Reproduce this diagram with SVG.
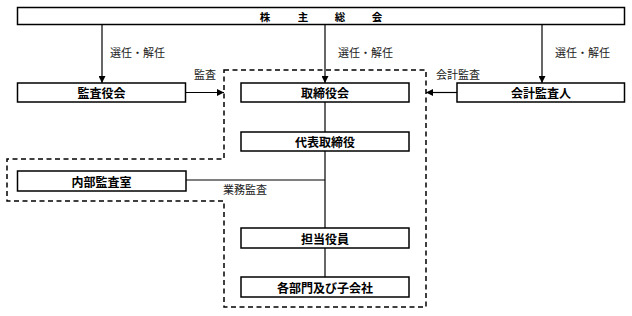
<svg xmlns="http://www.w3.org/2000/svg" width="632" height="316" viewBox="0 0 632 316">
<style>
.box{fill:#fff;stroke:#000;stroke-width:1.5}
.lbl{font-family:"Noto Sans CJK JP",sans-serif;font-size:12px;font-weight:bold;fill:#000;text-anchor:middle;dominant-baseline:central}
.note{font-family:"Noto Sans CJK JP",sans-serif;font-size:11px;fill:#222}
.ln{stroke:#000;stroke-width:1.2;fill:none}
.dash{stroke:#000;stroke-width:1.5;fill:none;stroke-dasharray:5 3.5}
</style>
<defs>
<marker id="ah" viewBox="0 0 10 10" refX="10" refY="5" markerWidth="7" markerHeight="7" markerUnits="userSpaceOnUse" orient="auto">
<path d="M0,0 L10,5 L0,10 z" fill="#000"/>
</marker>
</defs>
<g id="scope">
<path class="dash" d="M224,70 H426 V307 H224 V201 H7 V159 H224 Z"/>
</g>
<g id="connectors">
<line class="ln" x1="102" y1="24.5" x2="102" y2="83" marker-end="url(#ah)"/>
<line class="ln" x1="325" y1="24.5" x2="325" y2="83" marker-end="url(#ah)"/>
<line class="ln" x1="542" y1="24.5" x2="542" y2="83" marker-end="url(#ah)"/>
<line class="ln" x1="185" y1="92.5" x2="224" y2="92.5" marker-end="url(#ah)"/>
<line class="ln" x1="457" y1="92.5" x2="426" y2="92.5" marker-end="url(#ah)"/>
<line class="ln" x1="325" y1="102" x2="325" y2="132"/>
<line class="ln" x1="325" y1="151" x2="325" y2="228"/>
<line class="ln" x1="325" y1="248" x2="325" y2="277"/>
<line class="ln" x1="186" y1="180" x2="325" y2="180"/>
<text class="note" x="110" y="57">選任・解任</text>
<text class="note" x="338" y="57">選任・解任</text>
<text class="note" x="555" y="57">選任・解任</text>
<text class="note" x="194" y="79">監査</text>
<text class="note" x="436" y="79">会計監査</text>
<text class="note" x="223" y="194">業務監査</text>
</g>
<g id="n-shareholders">
<rect class="box" x="17.5" y="7.5" width="607" height="17"/>
<text class="lbl" style="font-size:10.5px" x="265 303 340 377" y="16.5">株主総会</text>
</g>
<g id="n-auditors">
<rect class="box" x="17.5" y="83" width="168" height="19"/>
<text class="lbl" x="101.5" y="92.5">監査役会</text>
</g>
<g id="n-board">
<rect class="box" x="241" y="83" width="168" height="19"/>
<text class="lbl" x="325" y="92.5">取締役会</text>
</g>
<g id="n-accountant">
<rect class="box" x="457" y="83" width="167.5" height="19"/>
<text class="lbl" x="541" y="92.5">会計監査人</text>
</g>
<g id="n-ceo">
<rect class="box" x="241" y="132" width="168" height="19"/>
<text class="lbl" x="325" y="141.5">代表取締役</text>
</g>
<g id="n-internal">
<rect class="box" x="17.5" y="171" width="168.5" height="20"/>
<text class="lbl" x="101.5" y="181">内部監査室</text>
</g>
<g id="n-officer">
<rect class="box" x="241" y="228" width="168" height="20"/>
<text class="lbl" x="325" y="238">担当役員</text>
</g>
<g id="n-depts">
<rect class="box" x="241" y="277" width="168" height="20"/>
<text class="lbl" x="325" y="287">各部門及び子会社</text>
</g>
</svg>
